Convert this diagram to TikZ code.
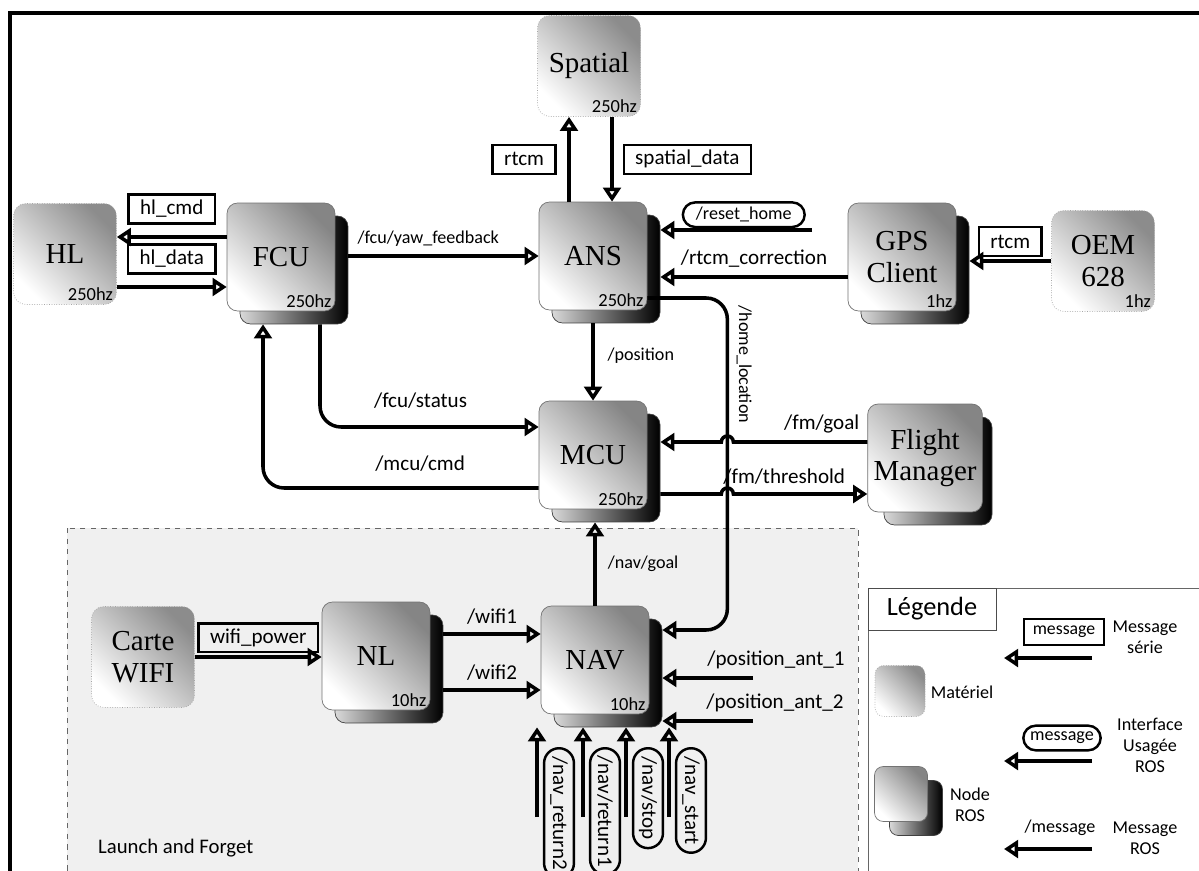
\documentclass[tikz,border=0pt]{standalone}
\usepackage{fontspec}
\setmainfont{Liberation Serif}
\setsansfont{Carlito}
\usepackage{tikz}
\usetikzlibrary{positioning, arrows.meta, shapes.misc, calc}

\begin{document}
\begin{tikzpicture}[
  x=0.02cm, y=-0.02cm,
  font=\sffamily\fontsize{10.3}{12}\selectfont,
  bigtxt/.style={font=\sffamily\fontsize{12}{14}\selectfont},
  rosnode/.style={draw=black!55, rounded corners=6pt, minimum width=2.16cm,
    minimum height=2.16cm, bottom color=white, top color=black!48,
    shading angle=-45, align=center,
    font=\rmfamily\fontsize{16.5}{18}\selectfont},
  rosback/.style={draw=black!75, rounded corners=6pt, minimum width=2.16cm,
    minimum height=2.16cm, left color=black!15, right color=black},
  hw/.style={draw=black!35, densely dotted, rounded corners=7pt,
    minimum width=2.06cm, minimum height=2.02cm, bottom color=white,
    top color=black!45, shading angle=-45, align=center,
    font=\rmfamily\fontsize{16.5}{18}\selectfont},
  rate/.style={anchor=south east, inner sep=2pt,
    font=\sffamily\fontsize{10.5}{12}\selectfont},
  serial/.style={draw, line width=1.4pt, inner xsep=6.5pt, inner ysep=1pt,
    minimum height=16.5pt, bigtxt},
  rosif/.style={draw, line width=1.4pt, rounded rectangle, inner xsep=6pt,
    inner ysep=1pt, minimum height=14pt},
  rosmsg/.style={line width=2pt, -{Triangle[open, length=8pt, width=10pt]}},
]
  \useasboundingbox[fill=white] (0,0) rectangle (1199,871);

  % frame, launch zone, legend zone
  \draw[line width=1.8pt] (10,885) |- (1215,13);
  \draw[black!60, dashed, fill=black!6] (67,528) rectangle (858,890);
  \draw[black!60, fill=white] (868,588) rectangle (1215,890);
  \node[anchor=west, font=\sffamily\fontsize{11.8}{13}\selectfont] (lf)
    at (92,848) {Launch and Forget};

  % hardware
  \node[hw, label={[rate]south east:250hz}] (HL) at (65,254) {HL};
  \node[hw, label={[rate]south east:250hz}] (Spatial) at (589,66) {Spatial};
  \node[hw, label={[rate]south east:1hz}] (OEM) at (1103,261) {OEM\\628};
  \node[hw] (Carte) at (143,657) {Carte\\WIFI};

  % ROS nodes
  \node[rosback] (FCU-b) at (294,270) {};
  \node[rosnode, label={[rate]south east:250hz}] (FCU) at (281,257) {FCU};
  \node[rosback] (ANS-b) at (606,269) {};
  \node[rosnode, label={[rate]south east:250hz}] (ANS) at (593,256) {ANS};
  \node[rosback] (GPS-b) at (915,270) {};
  \node[rosnode, label={[rate]south east:1hz}] (GPS) at (902,257) {GPS\\Client};
  \node[rosback] (MCU-b) at (606,468) {};
  \node[rosnode, label={[rate]south east:250hz}] (MCU) at (593,455) {MCU};
  \node[rosback] (FM-b) at (938,471) {};
  \node[rosnode] (FM) at (925,458) {Flight\\Manager};
  \node[rosback] (NL-b) at (389,669) {};
  \node[rosnode, label={[rate]south east:10hz}] (NL) at (376,656) {NL};
  \node[rosback] (NAV-b) at (608,673) {};
  \node[rosnode, label={[rate]south east:10hz}] (NAV) at (595,660) {NAV};

  % serial links
  \draw[rosmsg] ($(FCU.west)+(0,-20)$) -- node[serial, above=7pt] (t1) {hl\_cmd}
    ($(HL.east)+(0,-17)$);
  \draw[rosmsg] ($(HL.east)+(0,33)$) -- node[serial, above=7pt] (t2) {hl\_data}
    ($(FCU.west)+(0,30)$);
  \draw[rosmsg] ($(ANS.north)+(-24,0)$) -- node[serial, left=7pt] (t3) {rtcm}
    ($(Spatial.south)+(-20,0)$);
  \draw[rosmsg] ($(Spatial.south)+(23,0)$) -- node[serial, right=6pt] (t4) {spatial\_data}
    ($(ANS.north)+(19,0)$);
  \draw[rosmsg] (OEM.west) -- node[serial, above=2pt] (t5) {rtcm}
    (OEM.west -| GPS-b.east);
  \draw[rosmsg] (Carte.east) -- node[serial, above=2pt] (t6) {wifi\_power}
    (Carte.east -| NL.west);

  % ROS topics
  \draw[rosmsg] (FCU-b.east |- ANS.west) -- node[pos=0.42, above=1pt] (t7)
    {/fcu/yaw\_feedback} (ANS.west);
  \coordinate (rh) at (812,230);
  \draw[rosmsg] (rh) -- node[rosif, pos=0.45, above=1pt] (t8) {/reset\_home}
    (rh -| ANS-b.east);
  \draw[rosmsg] ($(GPS.west)+(0,20)$) -- node[bigtxt, above=1pt] (t9)
    {/rtcm\_correction} ($(ANS-b.east)+(0,8)$);
  \draw[rosmsg] (ANS-b.south -| ANS.south) -- node[pos=0.42, right=4pt] (t10)
    {/position} (MCU.north);
  \coordinate (hloc) at ($(NAV-b.east)+(65,0)$);
  \draw[rosmsg, rounded corners=12] ($(ANS.east)+(0,42)$) -| node[pos=0.6, sloped,
    above=1pt] (t11) {/home\_location} ($(hloc)+(0,-43)$) -- ($(NAV-b.east)+(0,-43)$);
  \draw[rosmsg, rounded corners=12] ($(FCU-b.south)+(26,0)$) |- node[bigtxt,
    pos=0.73, above=6pt] (t12) {/fcu/status} ($(MCU.west)+(0,-28)$);
  \draw[rosmsg, rounded corners=12] ($(MCU.west)+(0,33)$) -| node[bigtxt,
    pos=0.215, above=5pt] (t13) {/mcu/cmd} ($(FCU-b.south)+(-31,0)$);
  \draw[rosmsg] ($(FM.west)+(0,-16)$) -- node[bigtxt, pos=0.34, above=1pt] (t14)
    {/fm/goal} ($(hloc |- FM.west)+(6,-16)$)
    arc[start angle=0, end angle=180, radius=0.12cm] -- ($(MCU-b.east)+(0,-26)$);
  \draw[rosmsg] ($(MCU-b.east)+(0,26)$) -- ($(hloc |- MCU-b.east)+(-6,26)$)
    arc[start angle=180, end angle=0, radius=0.12cm]
    -- node[bigtxt, pos=0.38, above=1pt] (t15) {/fm/threshold} ($(FM.west)+(0,36)$);
  \draw[rosmsg] (NAV.north) -- node[right=3pt] (t16) {/nav/goal}
    (NAV.north |- MCU-b.south);
  \draw[rosmsg] ($(NL-b.east)+(0,-35)$) -- node[bigtxt, above=1pt] (t17) {/wifi1}
    ($(NAV.west)+(0,-26)$);
  \draw[rosmsg] ($(NL-b.east)+(0,21)$) -- node[bigtxt, above=1pt] (t18) {/wifi2}
    ($(NAV.west)+(0,30)$);
  \coordinate (pa1) at (753,678);
  \coordinate (pa2) at (753,721);
  \draw[rosmsg] (pa1) -- node[bigtxt, pos=0, above=1pt, xshift=0.46cm] (t19)
    {/position\_ant\_1} (pa1 -| NAV-b.east);
  \draw[rosmsg] (pa2) -- node[bigtxt, pos=0, above=1pt, xshift=0.44cm] (t20)
    {/position\_ant\_2} (pa2 -| NAV-b.east);

  % user interfaces under NAV
  \foreach \x/\lab [count=\i] in {537/{/nav\_return2}, 583/{/nav/return1},
      626/{/nav/stop}, 669/{/nav\_start}} {
    \coordinate (in\i) at (\x,817);
    \draw[rosmsg] (in\i) -- (in\i |- NAV-b.south);
    \node[rosif, bigtxt, minimum height=17pt, inner xsep=3pt, rotate=-90,
      anchor=west] (ui\i) at (\x+22,747) {\lab};
  }

  % legend
  \node[draw=black!70, fill=white, minimum width=2.56cm, minimum height=0.84cm,
    font=\sffamily\fontsize{15}{17}\selectfont] (leg) at (932,609) {Légende};
  \foreach \y [count=\i] in {658,761,849} {
    \coordinate (ls\i) at (1092,\y);
    \coordinate (le\i) at (1004,\y);
    \draw[rosmsg] (ls\i) -- (le\i);
  }
  \node[serial, font=\sffamily\fontsize{10.1}{12}\selectfont, inner xsep=5pt,
    minimum height=15pt] (lm1) at (1064,632) {message};
  \node[align=center] (lt1) at (1145,637) {Message\\série};
  \node[hw, minimum width=1cm, minimum height=1.02cm, rounded corners=5pt]
    (lhw) at (900,691) {};
  \node (lt2) at (962,692) {Matériel};
  \node[rosif, inner xsep=3pt] (lm2) at (1062,738) {message};
  \node[align=center] (lt3) at (1150,745) {Interface\\Usagée\\ROS};
  \node[rosback, minimum width=1.06cm, minimum height=1.1cm, rounded corners=5pt]
    (lros-b) at (916,808) {};
  \node[rosnode, minimum width=1.06cm, minimum height=1.1cm, rounded corners=5pt]
    (lros) at (901,794) {};
  \node[align=center] (lt4) at (970,805) {Node\\ROS};
  \node (lm3) at (1060,828) {/message};
  \node[align=center] (lt5) at (1145,838) {Message\\ROS};
\end{tikzpicture}
\end{document}
